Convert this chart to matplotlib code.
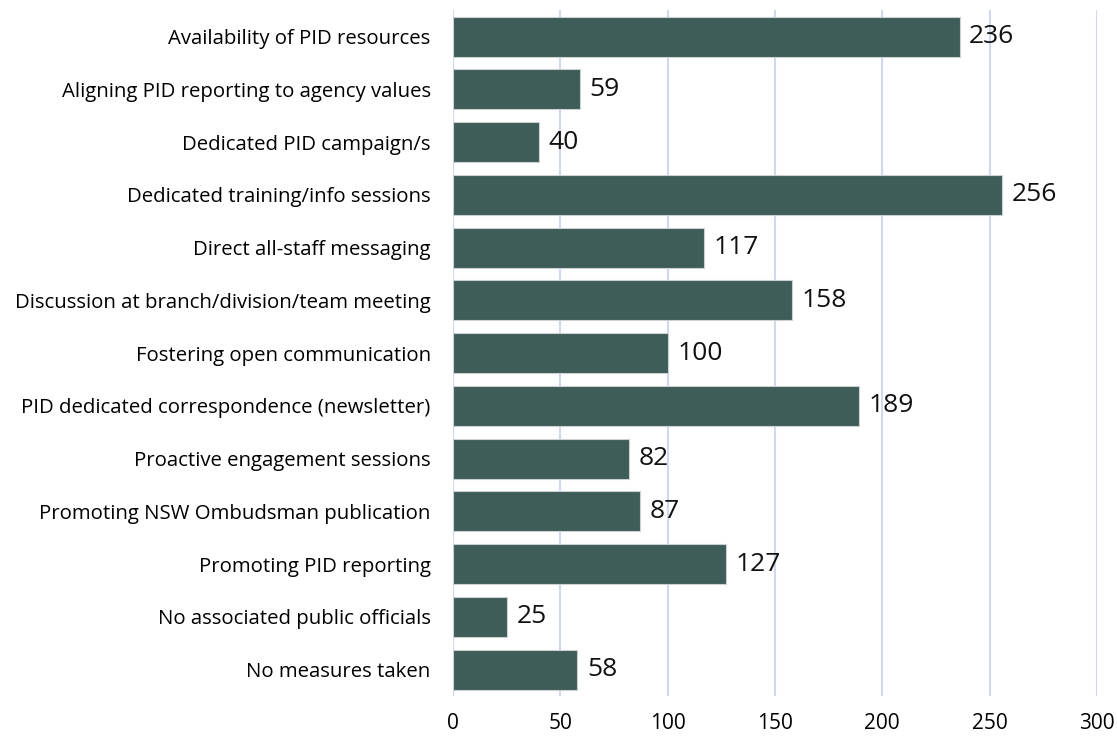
import matplotlib
matplotlib.use("Agg")
import matplotlib.pyplot as plt

categories = [
    "Availability of PID resources",
    "Aligning PID reporting to agency values",
    "Dedicated PID campaign/s",
    "Dedicated training/info sessions",
    "Direct all-staff messaging",
    "Discussion at branch/division/team meeting",
    "Fostering open communication",
    "PID dedicated correspondence (newsletter)",
    "Proactive engagement sessions",
    "Promoting NSW Ombudsman publication",
    "Promoting PID reporting",
    "No associated public officials",
    "No measures taken",
]
counts = [236, 59, 40, 256, 117, 158, 100, 189, 82, 87, 127, 25, 58]
x_ticks = [0, 50, 100, 150, 200, 250, 300]

plt.rcParams["font.family"] = ["Open Sans", "DejaVu Sans"]

fig = plt.figure(figsize=(11.17, 7.38), dpi=100)
ax = fig.add_axes([0.4055, 0.057, 0.5765, 0.929])

bar_color = "#3e5c58"
ypos = list(range(len(categories)))
bars = ax.barh(ypos, counts, height=0.76, color=bar_color,
               edgecolor="#c9d2d0", linewidth=0.8, zorder=3)

for y, v in zip(ypos, counts):
    ax.annotate(str(v), xy=(v, y), xytext=(7, 0), textcoords="offset points",
                va="center", ha="left", fontsize=19, color="#111111")

ax.set_xlim(0, 300)
ax.set_ylim(len(categories) - 0.5, -0.5)
ax.set_xticks(x_ticks)
ax.set_xticklabels([str(t) for t in x_ticks], fontsize=15)
ax.set_yticks(ypos)
ax.set_yticklabels(categories, fontsize=14.7)
ax.tick_params(axis="both", length=0)
ax.tick_params(axis="x", pad=12)
ax.tick_params(axis="y", pad=16)
ax.grid(axis="x", color="#d0d7ef", linewidth=1.5, zorder=0)
for s in ax.spines.values():
    s.set_visible(False)

fig.savefig("out.png", dpi=100, facecolor="white")
